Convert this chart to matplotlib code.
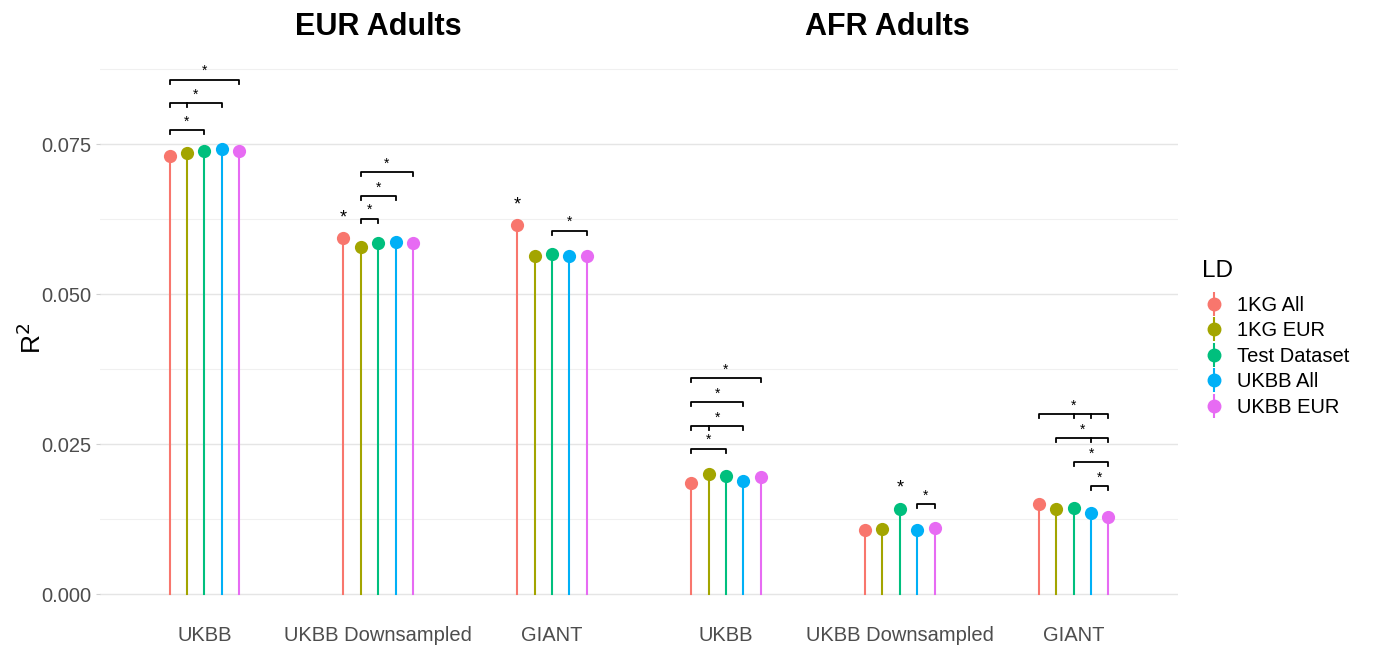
import matplotlib.pyplot as plt
from matplotlib.lines import Line2D
from matplotlib.ticker import MultipleLocator

plt.rcParams['font.family'] = ['Liberation Sans', 'DejaVu Sans']

# --- data ---------------------------------------------------------------------
categories = ["UKBB", "UKBB Downsampled", "GIANT", "UKBB", "UKBB Downsampled", "GIANT"]
ld_groups = ["1KG All", "1KG EUR", "Test Dataset", "UKBB All", "UKBB EUR"]
ld_colors = ["#F8766D", "#A3A500", "#00BF7D", "#00B0F6", "#E76BF3"]

r2_1kg_all = [0.0730, 0.0593, 0.0615, 0.0185, 0.0107, 0.0150]
r2_1kg_eur = [0.0735, 0.0578, 0.0563, 0.0200, 0.0108, 0.0142]
r2_test = [0.0738, 0.0585, 0.0567, 0.0197, 0.0142, 0.0143]
r2_ukbb_all = [0.0742, 0.0587, 0.0563, 0.0188, 0.0107, 0.0135]
r2_ukbb_eur = [0.0738, 0.0585, 0.0563, 0.0195, 0.0110, 0.0128]
r2 = [r2_1kg_all, r2_1kg_eur, r2_test, r2_ukbb_all, r2_ukbb_eur]

panel_titles = ["EUR Adults", "AFR Adults"]

# significance brackets: (category, first group, last group, height, inner ticks)
brackets = [
    (0, 0, 2, 0.0773, []), (0, 0, 3, 0.0818, [1]), (0, 0, 4, 0.0857, []),
    (1, 1, 2, 0.0625, []), (1, 1, 3, 0.0663, []), (1, 1, 4, 0.0703, []),
    (2, 2, 4, 0.0605, []),
    (3, 0, 2, 0.0242, []), (3, 0, 3, 0.0280, [1]), (3, 0, 3, 0.0320, []),
    (3, 0, 4, 0.0360, []),
    (4, 3, 4, 0.0150, []),
    (5, 3, 4, 0.0180, []), (5, 2, 4, 0.0220, []), (5, 1, 4, 0.0260, [3]),
    (5, 0, 4, 0.0300, [2, 3]),
]
# single starred points: (category, group)
lone_stars = [(1, 0), (2, 0), (4, 2)]

# --- plot ---------------------------------------------------------------------
fig = plt.figure(figsize=(13.73, 6.52), dpi=100)
ax = fig.add_axes([100 / 1373, 32 / 652, 1078 / 1373, 563 / 652])

dodge = 0.1


def xpos(cat, grp):
    return cat + (grp - 2) * dodge


for g, (name, col) in enumerate(zip(ld_groups, ld_colors)):
    for c in range(len(categories)):
        x = xpos(c, g)
        ax.plot([x, x], [0, r2[g][c]], color=col, lw=1.5, zorder=2)
        ax.plot(x, r2[g][c], "o", color=col, ms=9.5, mec="none", zorder=3)

tick = 0.0007
for c, g1, g2, y, inner in brackets:
    x1, x2 = xpos(c, g1), xpos(c, g2)
    ax.plot([x1, x1, x2, x2], [y - tick, y, y, y - tick], color="black", lw=1.3, zorder=4)
    for gi in inner:
        xi = xpos(c, gi)
        ax.plot([xi, xi], [y - tick, y], color="black", lw=1.3, zorder=4)
    ax.text((x1 + x2) / 2, y + 0.0003, "*", ha="center", va="bottom", fontsize=10)

for c, g in lone_stars:
    ax.text(xpos(c, g), r2[g][c] + 0.0020, "*", ha="center", va="bottom", fontsize=13)

# panel headings centred over each population's middle category
title_x = [1.0, 3.93]
for tx, t in zip(title_x, panel_titles):
    ax.text(tx, 0.0945, t, ha="center", va="center", fontsize=22, fontweight="bold",
            clip_on=False)

ax.set_xlim(-0.6, 5.6)
ax.set_ylim(-0.0043, 0.0895)
ax.set_xticks(range(len(categories)))
ax.set_xticklabels(categories, fontsize=14.5, color="#4D4D4D")
ax.yaxis.set_minor_locator(MultipleLocator(0.0125))
ax.set_yticks([0, 0.025, 0.05, 0.075])
ax.set_yticklabels(["0.000", "0.025", "0.050", "0.075"], fontsize=14.5, color="#4D4D4D")
ax.tick_params(axis="x", length=0, pad=4)
ax.tick_params(axis="y", which="major", length=3, color="#D0D0D0", pad=3)
ax.tick_params(axis="y", which="minor", length=0)
ax.set_ylabel("R$^2$", fontsize=19, labelpad=-3)
ax.grid(axis="y", which="major", color="#E5E5E5", lw=1.0)
ax.grid(axis="y", which="minor", color="#F0F0F0", lw=0.8)
ax.set_axisbelow(True)
for s in ax.spines.values():
    s.set_visible(False)

handles = []
for name, col in zip(ld_groups, ld_colors):
    stem = Line2D([], [], color=col, marker="|", ms=17, mew=1.5, ls="none")
    dot = Line2D([], [], color=col, marker="o", ms=9, ls="none")
    handles.append((stem, dot))
leg = fig.legend(handles, ld_groups, title="LD", loc="upper left",
                 bbox_to_anchor=(1184 / 1373, 1 - 242 / 652), frameon=False,
                 fontsize=14.5, title_fontsize=17.5, handlelength=1.2,
                 labelspacing=0.32, handletextpad=0.55)
leg._legend_box.align = "left"
leg._legend_box.sep = 10

fig.savefig("out.png", dpi=100)
